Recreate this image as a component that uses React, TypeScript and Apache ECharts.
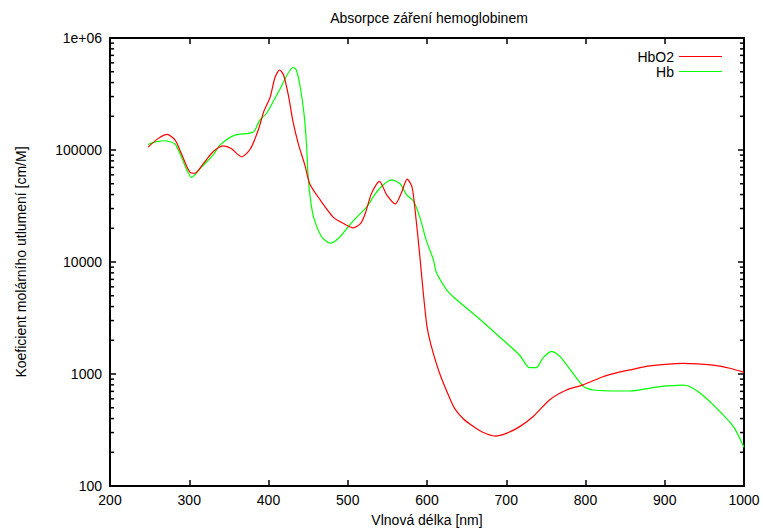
import React, { useEffect, useRef } from "react";
import * as echarts from "echarts";

const titleText = "Absorpce záření hemoglobinem";
const xName = "Vlnová délka [nm]";
const yName = "Koeficient molárního utlumení [cm/M]";
const seriesNames = ["HbO2", "Hb"];

const hbo2Wavelength = [
  248, 261, 272, 282, 290, 301, 307, 318, 328, 336, 343, 353, 366, 377, 387, 394, 402, 408, 414, 419,
  425, 431, 438, 446, 452, 465, 482, 494, 507, 516, 522, 530, 540, 549, 560, 568, 575, 581, 585, 591,
  595, 600, 605, 616, 629, 635, 646, 659, 671, 686, 700, 717, 734, 755, 776, 797, 822, 839,
  856, 881, 923, 961, 982, 1000,
];
const hbo2Values = [
  106000, 127000, 138000, 123000, 93000, 63000, 62000, 76000, 93000, 104000, 109000, 103000, 87000,
  102000, 150000, 220000, 295000, 440000, 518000, 467000, 310000, 178000, 111000, 73000, 50000, 36000,
  25000, 22200, 20200, 22000, 27000, 41000, 52500, 40000, 33000, 42000, 55000, 47000, 29000, 11200,
  5600, 2650, 1820, 1010, 600, 490, 396, 338, 300, 279, 295, 339, 418, 590, 720, 800, 946,
  1025, 1087, 1180, 1245, 1200, 1125, 1035,
];

const hbWavelength = [
  248, 258, 269, 282, 290, 303, 316, 330, 339, 357, 381, 389, 398, 414, 431, 435, 440, 445, 448, 450,
  453, 457, 467, 478, 488, 499, 511, 524, 532, 541, 555, 566, 574, 583, 591, 599, 608, 612, 625, 633,
  663, 692, 717, 729, 738, 746, 757, 768, 797, 810, 856, 894, 923, 932, 945, 966, 987, 1000,
];
const hbValues = [
  112000, 118000, 121000, 113000, 87000, 57000, 71000, 90000, 111000, 135000, 145000, 185000, 215000,
  345000, 545000, 520000, 367000, 205000, 111000, 58000, 36000, 25000, 16800, 14700, 16200, 20000,
  25000, 31000, 38000, 46000, 54000, 50000, 40000, 35000, 25000, 15700, 10500, 8000, 5600, 4900, 3240,
  2130, 1470, 1140, 1140, 1380, 1590, 1430, 780, 720, 705, 770, 795, 770, 672, 490, 336, 222,
];

const xMin = 200;
const xMax = 1000;
const xStep = 100;
const yMin = 100;
const yMax = 1000000;
const yMinorTicks = [
  200, 300, 400, 500, 600, 700, 800, 900,
  2000, 3000, 4000, 5000, 6000, 7000, 8000, 9000,
  20000, 30000, 40000, 50000, 60000, 70000, 80000, 90000,
  200000, 300000, 400000, 500000, 600000, 700000, 800000, 900000,
];

const FONT = "Liberation Sans";
const FS = 14;

export default function App() {
  const ref = useRef<HTMLDivElement>(null);
  useEffect(() => {
    if (!ref.current) return;
    const chart = echarts.init(ref.current, null, { renderer: "svg" });
    const axisLine = { show: true, lineStyle: { color: "#000", width: 2 } };
    const tick = { show: true, inside: true, length: 6, lineStyle: { color: "#000", width: 1.5 } };
    const yFormatter = (v: number) => (v >= 1000000 ? "1e+06" : String(Math.round(v)));
    chart.setOption({
      animation: false,
      backgroundColor: "#fff",
      textStyle: { fontFamily: FONT, color: "#000" },
      title: {
        text: titleText,
        left: 424,
        top: 6,
        textAlign: "center",
        textStyle: { fontFamily: FONT, fontSize: FS, fontWeight: "normal", color: "#000" },
      },
      legend: {
        data: seriesNames,
        orient: "vertical",
        right: 36,
        top: 44,
        align: "right",
        icon: "rect",
        itemWidth: 43,
        itemHeight: 1,
        itemGap: 0,
        textStyle: { fontFamily: FONT, fontSize: FS, color: "#000", lineHeight: 15 },
      },
      grid: { left: 110, right: 19, top: 38, bottom: 42, outerBoundsMode: "none", containLabel: false },
      xAxis: [
        {
          type: "value",
          min: xMin,
          max: xMax,
          interval: xStep,
          name: xName,
          nameLocation: "middle",
          nameGap: 27,
          nameTextStyle: { fontFamily: FONT, fontSize: FS, color: "#000" },
          axisLine,
          axisTick: tick,
          splitLine: { show: false },
          axisLabel: {
            color: "#000",
            fontFamily: FONT,
            fontSize: FS,
            margin: 7,
            formatter: (v: number) => String(v),
          },
        },
        {
          type: "value",
          position: "top",
          min: xMin,
          max: xMax,
          interval: xStep,
          axisLine,
          axisTick: tick,
          splitLine: { show: false },
          axisLabel: { show: false },
        },
      ],
      yAxis: [
        {
          type: "log",
          logBase: 10,
          min: yMin,
          max: yMax,
          name: yName,
          nameLocation: "middle",
          nameGap: 82,
          nameTextStyle: { fontFamily: FONT, fontSize: FS, color: "#000" },
          axisLine,
          axisTick: tick,
          splitLine: { show: false },
          axisLabel: { color: "#000", fontFamily: FONT, fontSize: FS, margin: 8, formatter: yFormatter },
        },
        {
          type: "log",
          logBase: 10,
          position: "right",
          min: yMin,
          max: yMax,
          axisLine,
          axisTick: tick,
          splitLine: { show: false },
          axisLabel: { show: false },
        },
      ],
      series: [
        {
          name: seriesNames[0],
          type: "line",
          data: hbo2Wavelength.map((w, i) => [w, hbo2Values[i]]),
          smooth: 0.25,
          symbol: "none",
          lineStyle: { color: "#ff0000", width: 1.2 },
          itemStyle: { color: "#ff0000" },
          z: 3,
        },
        {
          name: seriesNames[1],
          type: "line",
          data: hbWavelength.map((w, i) => [w, hbValues[i]]),
          smooth: 0.25,
          symbol: "none",
          lineStyle: { color: "#00ff00", width: 1.2 },
          itemStyle: { color: "#00ff00" },
          z: 2,
        },
        {
          type: "custom",
          silent: true,
          clip: false,
          coordinateSystem: "cartesian2d",
          xAxisIndex: 0,
          yAxisIndex: 0,
          encode: { x: 0, y: 1 },
          data: yMinorTicks.map((v) => [xMin, v]),
          renderItem: (_params: any, api: any) => {
            const v = api.value(1);
            const l = api.coord([xMin, v]);
            const r = api.coord([xMax, v]);
            const st = { stroke: "#000", lineWidth: 1.5, fill: null };
            return {
              type: "group",
              children: [
                { type: "line", shape: { x1: l[0], y1: l[1], x2: l[0] + 4, y2: l[1] }, style: st },
                { type: "line", shape: { x1: r[0] - 4, y1: r[1], x2: r[0], y2: r[1] }, style: st },
              ],
            };
          },
          z: 5,
        },
      ],
    });
    return () => chart.dispose();
  }, []);
  return (
    <div
      ref={ref}
      style={{ position: "absolute", left: 0, top: 0, width: 763, height: 528 }}
    />
  );
}
